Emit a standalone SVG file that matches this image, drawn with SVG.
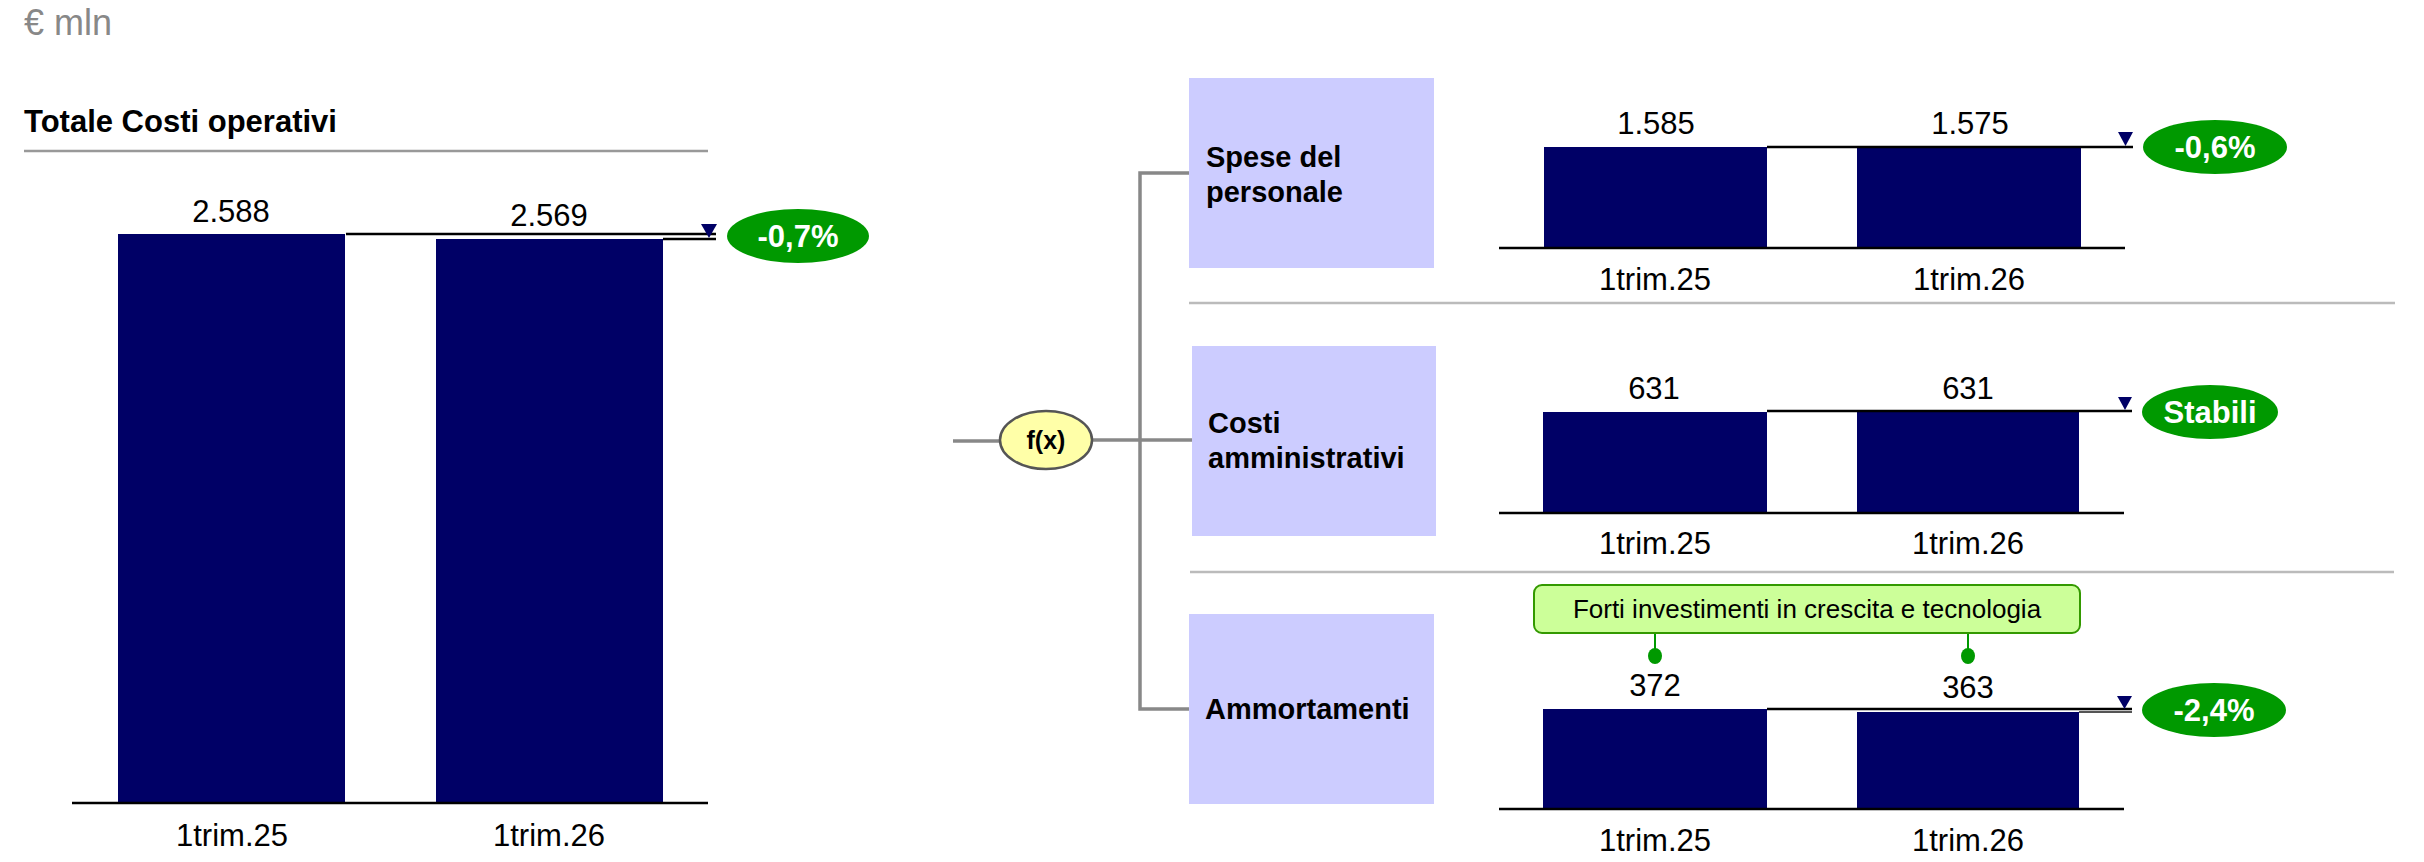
<svg xmlns="http://www.w3.org/2000/svg" width="2424" height="862" viewBox="0 0 2424 862">
<style>
text{font-family:"Liberation Sans",Arial,sans-serif;}
.val{font-size:31px;fill:#000;text-anchor:middle;}
.cat{font-size:31px;fill:#000;text-anchor:middle;}
.bar{fill:#000066;}
.base{stroke:#000;stroke-width:2.5;fill:none;}
.ref{stroke:#000;stroke-width:2.5;fill:none;}
.ref2{stroke:#555;stroke-width:2;fill:none;}
.tri{fill:#000066;}
.badge{fill:#009900;}
.btxt{font-size:31px;font-weight:bold;fill:#fff;text-anchor:middle;}
.box{fill:#ccccff;}
.btitle{font-size:29px;font-weight:bold;fill:#000;}
.conn{stroke:#888;stroke-width:3.5;fill:none;}
.div{stroke:#bbb;stroke-width:2.5;fill:none;}
</style>

<text x="24" y="35" font-size="36" fill="#888">€ mln</text>

<g id="totale">
<text x="24" y="132" font-size="31" font-weight="bold" fill="#000">Totale Costi operativi</text>
<line x1="24" y1="151" x2="708" y2="151" stroke="#999" stroke-width="2.5"/>
<rect class="bar" x="118" y="234" width="227" height="569"/>
<rect class="bar" x="436" y="239" width="227" height="564"/>
<line class="ref" x1="346" y1="234" x2="716" y2="234"/>
<line class="ref" x1="663" y1="239" x2="716" y2="239"/>
<polygon class="tri" points="701,224 717,224 709,238"/>
<line class="base" x1="72" y1="803" x2="708" y2="803"/>
<text class="val" x="231" y="222">2.588</text>
<text class="val" x="549" y="226">2.569</text>
<text class="cat" x="232" y="846">1trim.25</text>
<text class="cat" x="549" y="846">1trim.26</text>
<ellipse class="badge" cx="798" cy="236" rx="71" ry="27"/>
<text class="btxt" x="798" y="247">-0,7%</text>
</g>

<g id="connectors">
<line class="conn" x1="953" y1="441" x2="1000" y2="441"/>
<line class="conn" x1="1092" y1="440" x2="1192" y2="440"/>
<polyline class="conn" points="1189,173 1140,173 1140,709 1189,709"/>
<line x1="1655" y1="633" x2="1655" y2="652" stroke="#009900" stroke-width="2"/>
<line x1="1968" y1="633" x2="1968" y2="652" stroke="#009900" stroke-width="2"/>
<ellipse cx="1655" cy="656" rx="7" ry="8" fill="#009900"/>
<ellipse cx="1968" cy="656" rx="7" ry="8" fill="#009900"/>
</g>

<g id="fx">
<ellipse cx="1046" cy="440" rx="46" ry="29" fill="#ffffa8" stroke="#555" stroke-width="2.5"/>
<text x="1046" y="449" font-size="25" font-weight="bold" text-anchor="middle" fill="#000">f(x)</text>
</g>

<g id="spese">
<rect class="box" x="1189" y="78" width="245" height="190"/>
<text class="btitle" x="1206" y="167">Spese del</text>
<text class="btitle" x="1206" y="202">personale</text>
<rect class="bar" x="1544" y="147" width="223" height="101"/>
<rect class="bar" x="1857" y="148" width="224" height="100"/>
<line class="ref" x1="1767" y1="147" x2="2133" y2="147"/>
<polygon class="tri" points="2118,132 2133,132 2125.5,146"/>
<line class="base" x1="1499" y1="248" x2="2125" y2="248"/>
<text class="val" x="1656" y="134">1.585</text>
<text class="val" x="1970" y="134">1.575</text>
<text class="cat" x="1655" y="290">1trim.25</text>
<text class="cat" x="1969" y="290">1trim.26</text>
<ellipse class="badge" cx="2215" cy="147" rx="72" ry="27"/>
<text class="btxt" x="2215" y="158">-0,6%</text>
</g>

<line class="div" x1="1189" y1="303" x2="2395" y2="303"/>

<g id="costi">
<rect class="box" x="1192" y="346" width="244" height="190"/>
<text class="btitle" x="1208" y="433">Costi</text>
<text class="btitle" x="1208" y="468">amministrativi</text>
<rect class="bar" x="1543" y="412" width="224" height="101"/>
<rect class="bar" x="1857" y="412" width="222" height="101"/>
<line class="ref" x1="1767" y1="411" x2="2132" y2="411"/>
<polygon class="tri" points="2118,397 2132,397 2125,410"/>
<line class="base" x1="1499" y1="513" x2="2124" y2="513"/>
<text class="val" x="1654" y="399">631</text>
<text class="val" x="1968" y="399">631</text>
<text class="cat" x="1655" y="554">1trim.25</text>
<text class="cat" x="1968" y="554">1trim.26</text>
<ellipse class="badge" cx="2210" cy="412" rx="68" ry="27"/>
<text class="btxt" x="2210" y="423">Stabili</text>
</g>

<line class="div" x1="1190" y1="572" x2="2394" y2="572"/>

<g id="ammortamenti">
<rect class="box" x="1189" y="614" width="245" height="190"/>
<text class="btitle" x="1205" y="719">Ammortamenti</text>
<rect class="bar" x="1543" y="709" width="224" height="100"/>
<rect class="bar" x="1857" y="712" width="222" height="97"/>
<line class="ref" x1="1767" y1="709" x2="2132" y2="709"/>
<line class="ref2" x1="2079" y1="712" x2="2132" y2="712"/>
<polygon class="tri" points="2117,696 2132,696 2124.5,709"/>
<line class="base" x1="1499" y1="809" x2="2124" y2="809"/>
<text class="val" x="1655" y="696">372</text>
<text class="val" x="1968" y="698">363</text>
<text class="cat" x="1655" y="851">1trim.25</text>
<text class="cat" x="1968" y="851">1trim.26</text>
<ellipse class="badge" cx="2214" cy="710" rx="72" ry="27"/>
<text class="btxt" x="2214" y="721">-2,4%</text>
</g>

<g id="callout">
<rect x="1534" y="585" width="546" height="48" rx="8" fill="#ccff99" stroke="#339900" stroke-width="2"/>
<text x="1807" y="618" font-size="26" text-anchor="middle" fill="#000">Forti investimenti in crescita e tecnologia</text>
</g>
</svg>
